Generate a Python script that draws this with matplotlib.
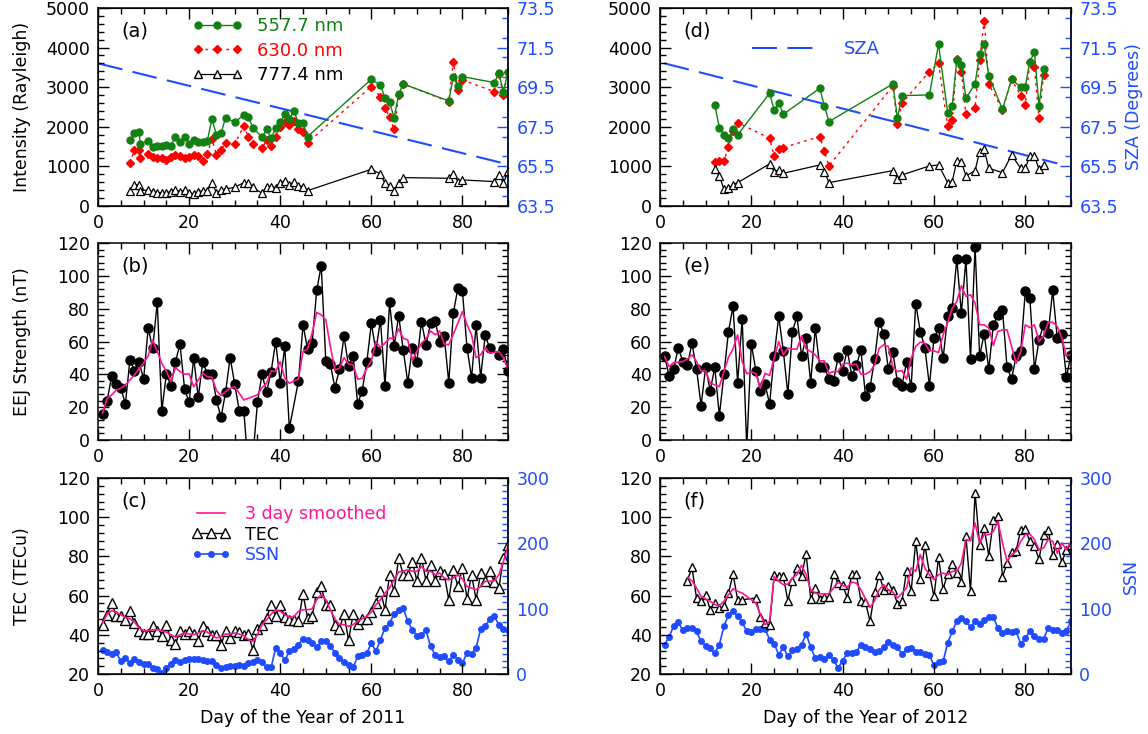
import matplotlib
matplotlib.use("Agg")
import matplotlib.pyplot as plt
from matplotlib.lines import Line2D
from matplotlib.ticker import MultipleLocator

plt.rcParams['font.family'] = ['DejaVu Sans']

GREEN = '#138013'
RED = '#ff0000'
BLUE = '#1f4cff'
PINK = '#ff1493'

# ---------------- panel (a) : airglow 2011 ----------------
a_days = [7, 8, 9, 9.3, 11, 12, 13, 14, 15, 16, 17, 18, 19, 20, 21, 22, 23, 24, 25, 26, 27, 28,
          30, 32, 33, 34, 36, 37, 38, 39, 40, 41, 42, 43, 44, 45, 46,
          60, 62, 63, 64, 65, 66, 67, 77, 78, 79, 80, 87, 88, 89, 90]
a_5577 = [1667, 1835, 1860, 1566, 1650, 1482, 1515, 1524, 1540, 1524, 1751, 1625, 1751, 1566, 1667,
          1625, 1625, 1650, 2197, 1793, 1835, 2231, 2113, 2298, 2239, 1978, 1734, 1936, 1717, 1961,
          2113, 2315, 2197, 2399, 2088, 2088, 1751, 3199, 3056, 2719, 2618, 2231, 2820, 3081,
          2652, 3266, 3031, 3266, 3115, 3350, 2887, 3392]
a_6300 = [1078, 1414, 1414, 1204, 1313, 1229, 1204, 1204, 1162, 1246, 1288, 1263, 1204, 1229, 1288,
          1263, 1145, 1313, 1692, 1288, 1414, 1583, 1566, 2020, 1751, 1566, 1456, 1667, 1524, 1751,
          2004, 2130, 2046, 2155, 1936, 1877, 1599, 3014, 2761, 2483, 2239, 1936, 2803, 3081,
          2635, 3645, 2929, 3182, 2887, 3334, 2803, 3392]
a_7774 = [387, 530, 530, 387, 404, 362, 337, 337, 337, 362, 404, 362, 404, 337, 303,
          362, 387, 387, 572, 337, 404, 429, 471, 589, 572, 471, 320, 488, 488, 463,
          589, 631, 530, 615, 513, 488, 387, 926, 808, 572, 513, 387, 572, 716,
          699, 800, 615, 657, 615, 783, 572, 884]
a_sza_days = [0, 30, 60, 90]
a_sza = [70.7, 69.0, 67.3, 65.6]

# ---------------- panel (d) : airglow 2012 ----------------
d_days = [12, 13, 14, 15, 16, 17, 24, 25, 26, 27, 35, 36, 37, 51, 52, 53, 59, 61, 63, 64, 65, 66, 67,
          69, 70, 71, 72, 75, 77, 79, 80, 81, 82, 83, 84]
d_5577 = [2551, 1978, 1793, 1709, 1936, 1793, 2845, 2424, 2610, 2315, 2972, 2525, 2130, 3081, 2214,
          2786, 2803, 4083, 2357, 2534, 3687, 3561, 2719, 3081, 3839, 4083, 3283, 2441, 3199, 2997,
          3014, 3645, 3881, 2525, 3460]
d_6300 = [1103, 1136, 1136, 1498, 1902, 2105, 1709, 1263, 1439, 1473, 1751, 1397, 1010, 3031, 2062,
          2593, 3392, 3603, 2020, 2172, 3704, 3392, 2323, 2483, 3687, 4680, 3081, 2424, 3199, 2778,
          2551, 3645, 3502, 2214, 3308]
d_7774 = [926, 758, 421, 446, 530, 589, 1061, 867, 909, 825, 1035, 867, 589, 892, 682, 783, 1010,
          1035, 589, 615, 1145, 1120, 758, 892, 1372, 1431, 951, 842, 1288, 951, 951, 1263, 1263,
          926, 1035]
d_sza_days = [1, 30, 60, 87]
d_sza = [70.7, 69.0, 67.25, 65.65]

# ---------------- panel (b) : EEJ 2011 ----------------
b_days = list(range(1, 43)) + list(range(44, 87)) + [88, 89, 90]
b_eej = [15.9, 24.0, 39.1, 34.0, 31.5, 22.0, 48.8, 42.3, 47.8, 37.0, 68.1, 55.9, 84.0, 17.9, 40.1,
         33.0, 47.8, 58.4, 31.1, 23.0, 50.2, 26.0, 47.8, 40.1, 40.1, 24.4, 13.8, 29.1, 50.2, 34.2,
         17.9, 17.9, -18, -10, 23.0, 40.1, 29.1, 41.7, 60.0, 35.0, 57.0, 7.1,
         36.0, 70.2, 55.3, 59.0, 91.1, 106.2, 48.2, 46.2, 31.9, 43.1, 63.1, 45.2, 51.3, 22.0, 30.1,
         47.4, 71.0, 54.5, 73.2, 33.0, 84.0, 57.0, 75.7, 54.9, 35.0, 55.9, 47.8, 72.2, 58.0, 71.0,
         72.8, 60.0, 63.1, 35.0, 77.3, 92.5, 90.5, 56.3, 38.0, 69.8, 38.0, 63.7, 55.9,
         51.9, 55.3, 42.3]
b_sm_days = list(range(1, 33)) + list(range(35, 43)) + list(range(44, 87)) + [88, 89, 90]
b_sm = [16.3, 25.4, 27.5, 30.5, 31.5, 33.6, 36.6, 39.7, 43.3, 46.8, 51.3, 61.0, 53.9, 46.8, 41.7,
        35.6, 44.1, 41.7, 40.1, 40.3, 32.5, 36.6, 40.7, 38.6, 38.2, 30.1, 27.1, 29.5, 31.5, 32.5,
        28.5, 24.4, 27.5, 31.9, 34.6, 42.1, 41.7, 47.8, 37.6, 34.6,
        37.2, 53.9, 55.5, 65.1, 77.7, 76.3, 73.2, 57.0, 42.7, 43.7, 50.2, 46.2, 45.8, 37.0, 37.6,
        43.7, 48.2, 60.0, 56.3, 59.0, 62.0, 62.0, 67.7, 62.0, 61.0, 48.8, 53.9, 59.0, 61.6, 66.5,
        64.1, 66.5, 58.4, 58.0, 64.5, 71.2, 78.3, 70.2, 64.1, 50.2, 51.9, 56.3, 52.9,
        53.9, 50.2, 42.7]

# ---------------- panel (e) : EEJ 2012 ----------------
e_days = list(range(1, 91))
e_eej = [51.3, 39.1, 43.1, 56.3, 47.8, 45.4, 59.0, 43.3, 21.0, 44.3, 30.1, 44.3, 14.8, 40.1, 66.1,
         81.4, 35.0, 73.8, -5, 58.6, 42.1, 30.1, 34.0, 22.0, 51.3, 75.3, 54.5, 28.1, 66.1, 75.3,
         51.3, 62.4, 35.0, 68.1, 44.3, 44.3, 37.2, 36.2, 50.4, 42.3, 54.9, 39.3, 45.4, 54.9, 27.1,
         32.1, 49.2, 72.2, 64.5, 43.3, 53.5, 35.2, 33.2, 47.4, 32.1, 83.0, 66.1, 56.3, 33.2, 62.0,
         68.1, 49.8, 75.3, 80.3, 110.2, 77.3, 110.2, 49.2, 117.4, 51.3, 64.7, 43.1, 70.2, 76.3, 79.3,
         44.3, 37.2, 51.3, 54.5, 90.5, 86.4, 43.1, 61.0, 70.2, 65.1, 91.1, 62.0, 64.5, 38.2, 51.9]
e_sm = [50.9, 44.7, 47.2, 47.4, 47.8, 49.4, 51.9, 47.8, 42.1, 42.1, 34.6, 33.6, 32.5, 41.7, 50.4,
        55.5, 64.1, 47.8, 40.3, 41.7, 40.3, 31.5, 40.7, 39.3, 49.8, 60.0, 51.9, 55.9, 55.5, 55.3,
        63.5, 55.5, 53.9, 51.9, 48.2, 48.2, 40.7, 41.7, 41.7, 46.2, 46.8, 45.8, 46.2, 40.1, 40.1,
        41.7, 45.8, 55.9, 58.0, 57.0, 44.7, 41.7, 42.3, 37.0, 49.8, 57.0, 59.6, 59.0, 54.5, 54.3,
        53.3, 64.1, 71.6, 80.3, 84.4, 94.0, 87.5, 88.5, 83.4, 70.2, 70.2, 68.1, 57.6, 66.1, 67.1,
        67.1, 57.0, 46.8, 53.9, 70.2, 68.5, 70.2, 60.0, 63.5, 71.6, 71.8, 69.2, 62.0, 51.3, 51.9]

# ---------------- panel (c) : TEC / SSN 2011 ----------------
c_days = list(range(1, 91))
c_tec = [44.8, 50.3, 56.2, 49.8, 49.8, 47.7, 52.0, 46.0, 42.1, 40.4, 40.4, 44.7, 41.8, 39.2, 44.8,
         37.5, 35.3, 42.1, 40.4, 42.1, 40.4, 36.7, 44.7, 41.8, 40.1, 40.1, 34.6, 42.1, 38.4, 42.1,
         41.4, 40.1, 40.4, 32.4, 43.1, 45.2, 48.6, 55.4, 49.4, 55.4, 48.9, 47.7, 47.7, 47.2, 60.8,
         48.6, 49.4, 61.8, 64.7, 55.4, 55.0, 45.2, 43.1, 50.6, 37.2, 50.6, 45.5, 48.2, 48.2, 51.6,
         56.2, 62.5, 52.8, 70.7, 62.2, 79.2, 70.7, 70.7, 77.2, 67.6, 79.2, 67.6, 75.8, 67.6, 72.4,
         71.0, 57.9, 73.2, 64.7, 74.1, 58.4, 70.7, 57.9, 71.5, 67.6, 72.4, 67.0, 63.9, 79.2, 86.0]
c_sm = [46.0, 50.6, 52.3, 51.5, 50.3, 48.9, 48.2, 46.5, 43.5, 42.1, 42.1, 42.6, 42.6, 42.1, 41.4,
        40.1, 38.7, 40.1, 40.9, 40.4, 40.1, 40.9, 42.1, 41.4, 39.7, 38.4, 39.2, 40.4, 40.4, 40.9,
        40.4, 39.6, 37.5, 36.7, 40.1, 45.2, 47.7, 50.6, 52.8, 52.0, 50.3, 48.9, 49.4, 52.0, 52.8,
        52.8, 53.2, 57.9, 60.5, 57.9, 52.8, 48.2, 45.2, 45.2, 44.3, 45.2, 46.9, 48.2, 49.4, 51.6,
        55.4, 57.9, 61.3, 63.9, 68.1, 72.1, 72.4, 73.2, 72.4, 72.4, 74.9, 72.4, 72.4, 70.7, 71.5,
        69.0, 68.1, 69.0, 70.7, 68.5, 64.7, 63.9, 63.0, 64.7, 67.3, 67.3, 67.6, 70.7, 77.5, 85.1]
c_ssn = [37.2, 33.2, 31.1, 33.2, 19.4, 24.5, 16.8, 23.0, 17.9, 15.8, 15.3, 9.2, 7.7, 1.0, 9.2,
         15.8, 21.9, 17.9, 20.9, 23.0, 23.0, 23.0, 21.9, 19.4, 19.4, 14.3, 9.2, 10.2, 11.7, 12.8,
         13.3, 12.8, 16.8, 18.4, 21.9, 17.9, 10.2, 10.2, 39.8, 32.1, 20.9, 34.7, 38.8, 44.9, 53.6,
         51.5, 47.4, 40.8, 50.0, 51.0, 43.4, 32.1, 24.5, 17.9, 13.3, 10.2, 27.0, 29.6, 32.1, 47.4,
         34.7, 52.6, 70.4, 78.1, 91.8, 98.5, 101.0, 80.6, 67.9, 58.7, 59.2, 66.8, 42.3, 29.6, 26.0,
         27.0, 19.4, 29.6, 21.9, 16.8, 32.1, 31.1, 39.8, 68.9, 73.0, 84.2, 88.3, 75.5, 69.4, 67.9]

# ---------------- panel (f) : TEC / SSN 2012 ----------------
f_days = list(range(6, 19)) + list(range(21, 91))
f_tec = [67.6, 74.4, 58.8, 57.1, 60.5, 52.8, 56.2, 53.7, 54.5, 61.3, 71.0, 57.9, 57.9,
         58.8, 48.9, 46.0, 44.8, 70.3, 69.8, 69.8, 57.4, 67.6, 74.1, 69.8, 81.4, 58.4, 63.9, 58.4,
         59.1, 59.1, 71.0, 66.4, 65.6, 58.8, 71.0, 71.0, 57.4, 56.6, 46.9, 61.7, 70.7, 63.0, 65.1,
         63.0, 55.9, 57.1, 72.7, 62.2, 87.7, 68.6, 86.0, 71.5, 59.6, 79.5, 63.4, 71.2, 76.1, 71.5,
         67.0, 90.3, 62.2, 112.4, 85.7, 94.5, 80.4, 98.4, 100.8, 69.5, 76.6, 82.1, 82.9, 93.7, 94.0,
         87.7, 85.1, 78.7, 90.8, 93.7, 80.9, 86.3, 77.2, 83.4, 86.0]
f_sm = [69.3, 67.6, 63.9, 59.6, 58.3, 57.1, 55.4, 54.9, 57.1, 60.5, 63.5, 62.2, 61.3,
        56.2, 50.3, 45.2, 46.9, 69.8, 67.3, 65.6, 65.9, 69.0, 70.7, 75.5, 70.7, 63.0, 61.3, 61.0,
        60.8, 61.0, 63.9, 66.9, 65.2, 64.4, 66.9, 66.4, 63.0, 58.4, 54.0, 57.4, 63.0, 65.6, 63.0,
        61.8, 58.8, 61.3, 63.9, 74.1, 72.4, 80.9, 74.1, 70.7, 68.1, 70.7, 71.5, 70.7, 72.4, 72.4,
        76.6, 88.6, 88.0, 97.1, 86.9, 91.1, 91.1, 92.8, 97.9, 86.9, 77.5, 80.9, 82.6, 87.7, 91.1,
        91.4, 88.6, 83.4, 84.3, 88.6, 87.7, 81.7, 86.9, 83.4, 87.7]
f_ssn_days = list(range(1, 91))
f_ssn = [44.9, 56.6, 74.0, 79.1, 66.8, 70.4, 70.4, 65.3, 50.0, 43.4, 39.8, 32.1, 44.9, 73.0, 90.8,
         95.9, 88.3, 79.1, 65.3, 63.8, 69.4, 68.9, 69.4, 52.6, 46.4, 29.6, 40.8, 27.0, 36.2, 38.8,
         44.9, 61.2, 41.3, 24.5, 25.5, 23.5, 29.6, 21.9, 9.2, 20.4, 32.1, 32.1, 33.7, 44.9, 40.8,
         38.3, 33.2, 34.7, 40.8, 48.5, 44.9, 40.8, 31.1, 38.3, 39.8, 33.7, 33.2, 31.1, 28.6, 13.3,
         17.9, 19.4, 47.4, 65.3, 80.6, 85.7, 80.6, 71.9, 80.6, 77.0, 82.1, 86.7, 86.7, 70.4, 62.8,
         65.3, 64.3, 65.3, 45.9, 55.1, 65.3, 57.7, 53.6, 53.6, 70.4, 66.8, 66.8, 62.8, 66.3, 80.6]

FS = 12.5

fig = plt.figure(figsize=(11.48, 7.34), dpi=100)
L, R = [0.0854, 0.3571], [0.5749, 0.3580]
rows = [(0.7194, 0.2698), (0.4005, 0.2684), (0.0817, 0.2670)]


def base_axes(col, row, ylim, major, minor, right=True):
    ax = fig.add_axes([col[0], rows[row][0], col[1], rows[row][1]])
    ax.set_xlim(0, 90)
    ax.set_ylim(*ylim)
    ax.xaxis.set_major_locator(MultipleLocator(20))
    ax.xaxis.set_minor_locator(MultipleLocator(5))
    ax.yaxis.set_major_locator(MultipleLocator(major))
    ax.yaxis.set_minor_locator(MultipleLocator(minor))
    ax.tick_params(which='both', direction='in', top=True, right=right, labelsize=FS, width=1)
    ax.tick_params(which='major', length=8, pad=6)
    ax.tick_params(which='minor', length=4)
    for s in ax.spines.values():
        s.set_linewidth(1.1)
    return ax


def blue_twin(ax, ylim, ticks, minor):
    tw = ax.twinx()
    tw.set_ylim(*ylim)
    tw.set_yticks(ticks)
    tw.yaxis.set_minor_locator(MultipleLocator(minor))
    tw.tick_params(which='both', direction='in', colors=BLUE, labelsize=FS, width=1)
    tw.tick_params(which='major', length=8, pad=6)
    tw.tick_params(which='minor', length=4)
    tw.spines['right'].set_color(BLUE)
    tw.spines['right'].set_linewidth(1.1)
    return tw


def letter(ax, s):
    ax.text(0.058, 0.885, s, transform=ax.transAxes, fontsize=14, va='center', ha='left')


sza_ticks = [63.5, 65.5, 67.5, 69.5, 71.5, 73.5]

# airglow panels
for col, days, g, r, k, sdays, sza, lab in [(L, a_days, a_5577, a_6300, a_7774, a_sza_days, a_sza, '(a)'),
                                            (R, d_days, d_5577, d_6300, d_7774, d_sza_days, d_sza, '(d)')]:
    ax = base_axes(col, 0, (0, 5000), 1000, 200, right=False)
    tw = blue_twin(ax, (63.5, 73.5), sza_ticks, 1)
    tw.plot(sdays, sza, color=BLUE, lw=1.5, dashes=(12, 5))
    ax.set_zorder(tw.get_zorder() + 1)
    ax.patch.set_visible(False)
    ax.plot(days, r, color=RED, lw=1, dashes=(2, 3), marker='D', ms=4, mec=RED, mfc=RED)
    ax.plot(days, g, color=GREEN, lw=1, marker='o', ms=5, mec=GREEN, mfc=GREEN)
    ax.plot(days, k, color='black', lw=0.9, marker='^', ms=6, mfc='white', mec='black', mew=0.9)
    letter(ax, lab)
    if lab == '(a)':
        ax.set_ylabel('Intensity (Rayleigh)', fontsize=FS)
        ax.yaxis.set_label_coords(-0.163, 0.5)
        h = [Line2D([], [], color=GREEN, lw=1, marker='o', ms=5),
             Line2D([], [], color=RED, lw=1, dashes=(2, 3), marker='D', ms=4),
             Line2D([], [], color='black', lw=0.9, marker='^', ms=6, mfc='white')]
        ax.legend(h, ['557.7 nm', '630.0 nm', '777.4 nm'], loc='upper left', bbox_to_anchor=(0.19, 1.035),
                  frameon=False, numpoints=3, handlelength=2.8, handletextpad=0.8, labelspacing=0.35,
                  fontsize=13, labelcolor=[GREEN, RED, 'black'])
    else:
        tw.set_ylabel('SZA (Degrees)', fontsize=FS, color=BLUE)
        tw.yaxis.set_label_coords(1.131, 0.5)
        h = [Line2D([], [], color=BLUE, lw=1.5, dashes=(12, 5))]
        ax.legend(h, ['SZA'], loc='upper left', bbox_to_anchor=(0.185, 0.92), frameon=False,
                  handlelength=3.8, handletextpad=1.3, fontsize=13, labelcolor=BLUE)

# EEJ panels
for col, days, v, sdays, sm, lab in [(L, b_days, b_eej, b_sm_days, b_sm, '(b)'),
                                     (R, e_days, e_eej, e_days, e_sm, '(e)')]:
    ax = base_axes(col, 1, (0, 120), 20, 4)
    ax.plot(days, v, color='black', lw=1, marker='o', ms=6.5, clip_on=True)
    ax.plot(sdays, sm, color=PINK, lw=1.2)
    letter(ax, lab)
    if lab == '(b)':
        ax.set_ylabel('EEJ Strength (nT)', fontsize=FS)
        ax.yaxis.set_label_coords(-0.163, 0.5)

# TEC panels
for col, tdays, tec, sm, sdays, ssn, lab, yr in [(L, c_days, c_tec, c_sm, c_days, c_ssn, '(c)', 2011),
                                                 (R, f_days, f_tec, f_sm, f_ssn_days, f_ssn, '(f)', 2012)]:
    ax = base_axes(col, 2, (20, 120), 20, 4, right=False)
    tw = blue_twin(ax, (0, 300), [0, 100, 200, 300], 10)
    tw.plot(sdays, ssn, color=BLUE, lw=1.2, marker='o', ms=4)
    ax.set_zorder(tw.get_zorder() + 1)
    ax.patch.set_visible(False)
    ax.plot(tdays, tec, color='black', lw=1, marker='^', ms=7 if lab == '(c)' else 6, mfc='white',
            mec='black', mew=1)
    ax.plot(tdays, sm, color=PINK, lw=1.2)
    letter(ax, lab)
    ax.set_xlabel(f'Day of the Year of {yr}', fontsize=FS, labelpad=6)
    if lab == '(c)':
        ax.set_ylabel('TEC (TECu)', fontsize=FS)
        ax.yaxis.set_label_coords(-0.163, 0.5)
        h = [Line2D([], [], color=PINK, lw=1.2),
             Line2D([], [], color='black', lw=1, marker='^', ms=7, mfc='white'),
             Line2D([], [], color=BLUE, lw=1.2, marker='o', ms=4)]
        ax.legend(h, ['3 day smoothed', 'TEC', 'SSN'], loc='upper left', bbox_to_anchor=(0.19, 0.94),
                  frameon=False, numpoints=3, handlelength=2.2, handletextpad=0.9, labelspacing=0.12,
                  fontsize=12.5, labelcolor=[PINK, 'black', BLUE])
    else:
        tw.set_ylabel('SSN', fontsize=FS, color=BLUE)
        tw.yaxis.set_label_coords(1.124, 0.5)

fig.savefig('out.png', dpi=100)
